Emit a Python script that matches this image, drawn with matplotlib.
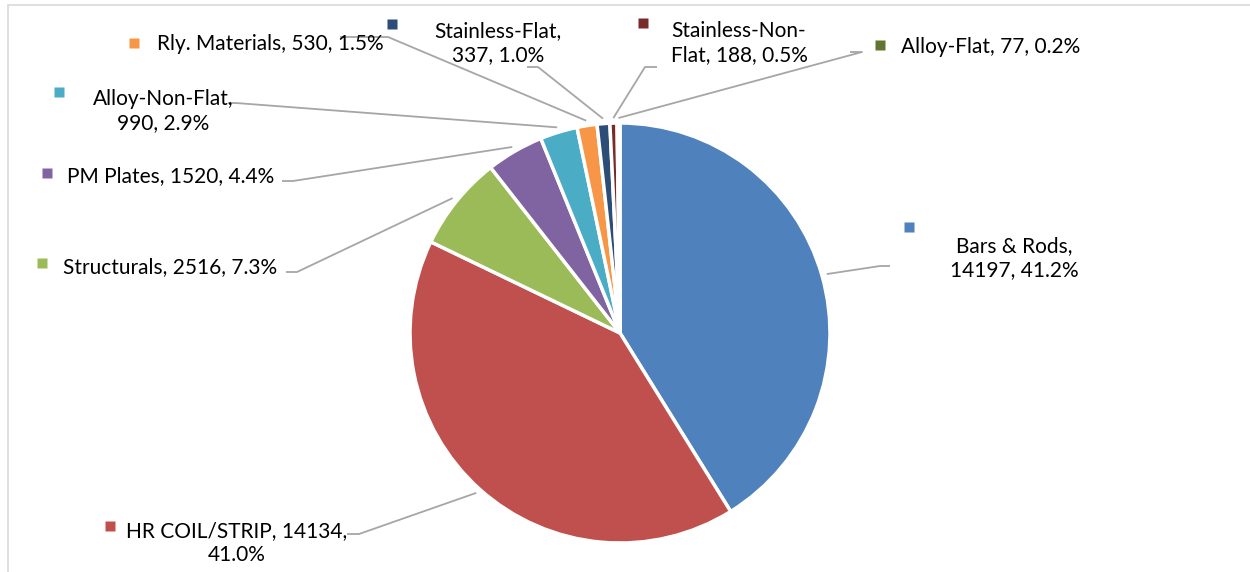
import matplotlib
matplotlib.use("Agg")
import matplotlib.pyplot as plt
from matplotlib.patches import Rectangle
import numpy as np

# data
categories = ["Bars & Rods", "HR COIL/STRIP", "Structurals", "PM Plates",
              "Alloy-Non-Flat", "Rly. Materials", "Stainless-Flat",
              "Stainless-Non-Flat", "Alloy-Flat"]
values = [14197, 14134, 2516, 1520, 990, 530, 337, 188, 77]
percents = ["41.2%", "41.0%", "7.3%", "4.4%", "2.9%", "1.5%", "1.0%", "0.5%", "0.2%"]
colors = ["#4F81BD", "#C0504D", "#9BBB59", "#8064A2", "#4BACC6",
          "#F79646", "#2C4D75", "#772C2A", "#5F7530"]

W, H = 1250, 572
FONT = ["Lato", "DejaVu Sans"]

# label layout in pixel coords (x, y from top):
# marker pos, text centre, line break rule, leader knee points
layout = {
    "Bars & Rods":        dict(mk=(909, 227), txt=(1014, 258), brk=1, knee=[(880, 266), (890, 266)]),
    "HR COIL/STRIP":      dict(mk=(110, 526), txt=(237, 543), brk=2, knee=[(359, 534), (347, 534)]),
    "Structurals":        dict(mk=(42, 263), txt=(170, 267), brk=0, knee=[(297, 272), (286, 272)]),
    "PM Plates":          dict(mk=(47, 173), txt=(171, 176), brk=0, knee=[(293, 181), (282, 181)]),
    "Alloy-Non-Flat":     dict(mk=(59, 92), txt=(163, 111), brk=1, knee=[(236, 103), (228, 103)]),
    "Rly. Materials":     dict(mk=(134, 43), txt=(270, 44), brk=0, knee=[(388, 37), (340, 37)]),
    "Stainless-Flat":     dict(mk=(392, 24), txt=(498, 43), brk=1, knee=[(538, 67), (527, 67)]),
    "Stainless-Non-Flat": dict(mk=(643, 23), txt=(739, 43), brk=-1, knee=[(645, 67), (657, 67)]),
    "Alloy-Flat":         dict(mk=(880, 45), txt=(991, 47), brk=0, knee=[(862, 52), (850, 52)]),
}

cx, cy, r = 620, 333, 210


def P(x, y):
    return x, H - y


fig = plt.figure(figsize=(12.5, 5.72), dpi=100)
ax = fig.add_axes([0, 0, 1, 1])

# chart border
ax.add_patch(Rectangle(P(8, 600), W + 20, 595, fill=False, edgecolor="#D9D9D9", lw=1.2))

wedges, _ = ax.pie(values, colors=colors, startangle=90, counterclock=False,
                   center=P(cx, cy), radius=r, frame=True,
                   wedgeprops=dict(edgecolor="white", linewidth=2.5))
ax.set_xlim(0, W)
ax.set_ylim(0, H)
ax.axis("off")

for i, (name, w) in enumerate(zip(categories, wedges)):
    lay = layout[name]
    # leader line from just outside the wedge middle to the label
    mid = np.deg2rad((w.theta1 + w.theta2) / 2)
    ex, ey = cx + 215 * np.cos(mid), cy - 215 * np.sin(mid)
    pts = [(ex, ey)] + lay["knee"]
    ax.plot([p[0] for p in pts], [H - p[1] for p in pts], color="#A6A6A6",
            lw=1.3, zorder=1, solid_capstyle="butt")

    parts = [name, str(values[i]), percents[i]]
    if lay["brk"] == 1:
        text = parts[0] + ",\n" + parts[1] + ", " + parts[2]
    elif lay["brk"] == 2:
        text = parts[0] + ", " + parts[1] + ",\n" + parts[2]
    elif lay["brk"] == -1:
        text = (", ".join(parts)).replace("Non-", "Non-\n", 1)
    else:
        text = ", ".join(parts)
    tx, ty = lay["txt"]
    ax.text(tx, H - ty, text, ha="center", va="center", multialignment="center",
            fontsize=15, family=FONT, color="#000000", zorder=3)
    mx, my = lay["mk"]
    ax.plot([mx], [H - my], marker="s", ms=6.5, color=colors[i], mec="none", zorder=3)

fig.savefig("out.png", dpi=100)
